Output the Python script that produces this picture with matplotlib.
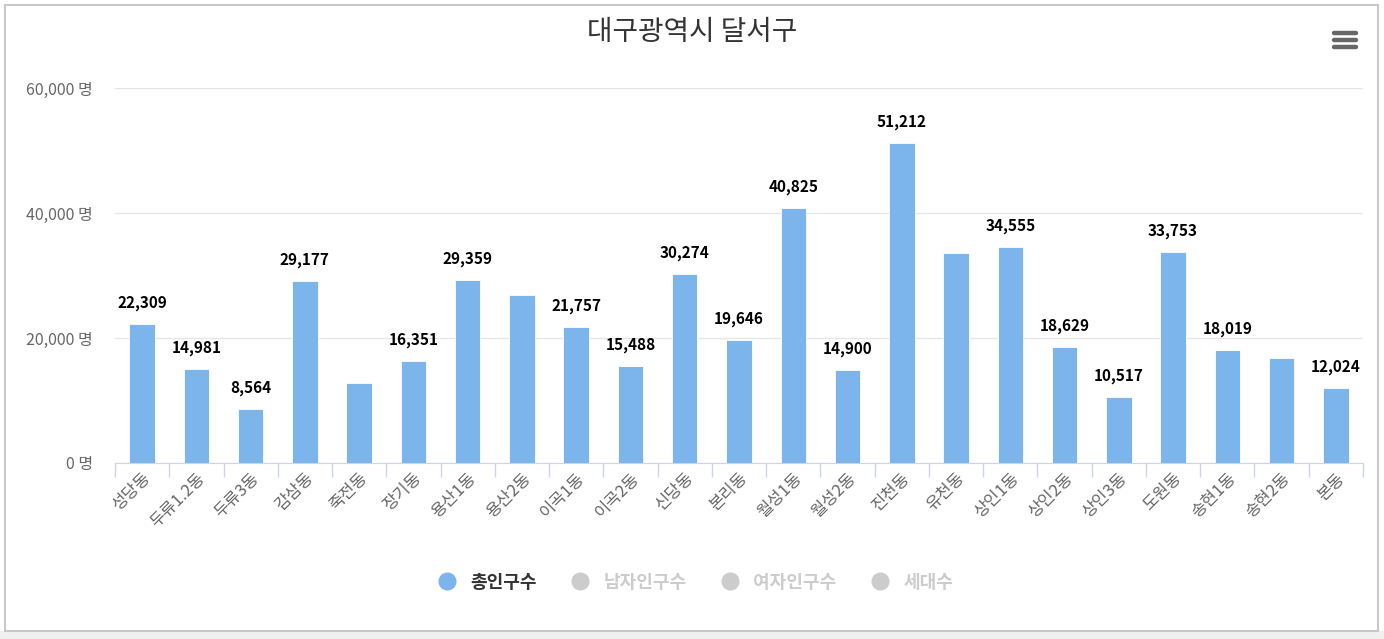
import matplotlib.pyplot as plt
from matplotlib.lines import Line2D
from matplotlib.patches import Rectangle
from matplotlib.ticker import FuncFormatter, FixedLocator

plt.rcParams['font.family'] = ['Noto Sans CJK KR', 'DejaVu Sans']

# data
dongs = ['성당동', '두류1.2동', '두류3동', '감삼동', '죽전동', '장기동', '용산1동', '용산2동',
         '이곡1동', '이곡2동', '신당동', '본리동', '월성1동', '월성2동', '진천동', '유천동',
         '상인1동', '상인2동', '상인3동', '도원동', '송현1동', '송현2동', '본동']
population = [22309, 14981, 8564, 29177, 12800, 16351, 29359, 26900,
              21757, 15488, 30274, 19646, 40825, 14900, 51212, 33600,
              34555, 18629, 10517, 33753, 18019, 16800, 12024]
# labels hidden in the original chart (overlap)
show_label = [True, True, True, True, False, True, True, False,
              True, True, True, True, True, True, True, False,
              True, True, True, True, True, False, True]
legend_names = ['총인구수', '남자인구수', '여자인구수', '세대수']

W, H = 1384, 639
fig = plt.figure(figsize=(W / 100, H / 100), dpi=100)
fig.patch.set_facecolor('white')

# outer frame and bottom strip
fig.patches.append(Rectangle((0, 0), 1, 8 / H, transform=fig.transFigure,
                             facecolor='#f0f0f0', edgecolor='none'))
fig.patches.append(Rectangle((5 / W, 8 / H), 1373 / W, (H - 13) / H, transform=fig.transFigure,
                             facecolor='none', edgecolor='#c8c8c8', linewidth=1.5))

ax = fig.add_axes([115 / W, 1 - 463 / H, (1363 - 115) / W, (463 - 88) / H])
x = range(len(dongs))
ax.bar(x, population, width=0.47, color='#7cb5ec', edgecolor='white', linewidth=0.6, zorder=3)

ax.set_xlim(-0.5, len(dongs) - 0.5)
ax.set_ylim(0, 60000)
ax.yaxis.set_major_locator(FixedLocator([0, 20000, 40000, 60000]))
ax.yaxis.set_major_formatter(FuncFormatter(lambda v, p: f'{int(v):,} 명'))
ax.grid(axis='y', color='#e6e6e6', linewidth=1, zorder=0)
ax.tick_params(axis='y', length=0, labelsize=11.5, labelcolor='#666666', pad=16)

ax.set_xticks(list(x))
ax.set_xticklabels(dongs, rotation=45, ha='right', rotation_mode='anchor',
                   fontsize=12, color='#666666')
ax.tick_params(axis='x', which='major', length=0, pad=5)
ax.set_xticks([i - 0.5 for i in range(len(dongs) + 1)], minor=True)
ax.tick_params(axis='x', which='minor', length=10, color='#ccd6eb', width=1)

for s in ['top', 'right', 'left']:
    ax.spines[s].set_visible(False)
ax.spines['bottom'].set_color('#ccd6eb')

for i, (v, show) in enumerate(zip(population, show_label)):
    if show:
        ax.annotate(f'{v:,}', (i, v), xytext=(0, 13), textcoords='offset pixels',
                    ha='center', va='bottom', fontsize=11, fontweight='bold', color='black')

fig.text(0.5, 1 - 32 / H, '대구광역시 달서구', ha='center', va='center',
         fontsize=20, color='#333333')

# menu icon
for yy in [33, 40, 47]:
    fig.add_artist(Line2D([1334 / W, 1356 / W], [1 - yy / H, 1 - yy / H],
                          color='#666666', linewidth=3.2, solid_capstyle='round'))

# legend
colors = ['#7cb5ec', '#cccccc', '#cccccc', '#cccccc']
handles = [Line2D([], [], marker='o', linestyle='none', markersize=12,
                  markerfacecolor=c, markeredgecolor=c) for c in colors]
leg = fig.legend(handles, legend_names, loc='center', ncol=4,
                 bbox_to_anchor=(691 / W, 1 - 582 / H), frameon=False,
                 fontsize=13, handletextpad=0.3, columnspacing=1.4)
for t, c in zip(leg.get_texts(), ['#333333', '#cccccc', '#cccccc', '#cccccc']):
    t.set_color(c)
    t.set_fontweight('bold')

fig.savefig('out.png', dpi=100)
